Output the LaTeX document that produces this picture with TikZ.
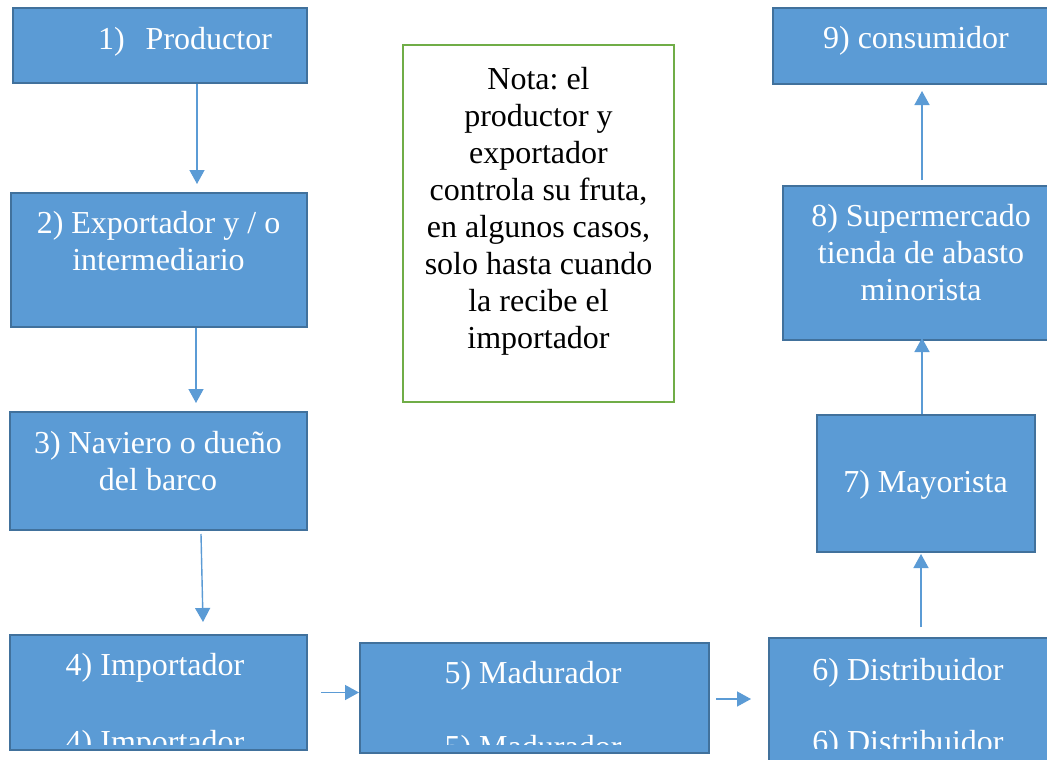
\documentclass[tikz,border=0pt]{standalone}
\usepackage{fontspec}
\setmainfont{Liberation Serif}
\frenchspacing
\usetikzlibrary{arrows.meta}
\definecolor{boxfill}{HTML}{5B9BD5}
\definecolor{boxline}{HTML}{41719C}
\definecolor{arrowc}{HTML}{5B9BD5}
\definecolor{notegreen}{HTML}{70AD47}
\tikzset{
  box/.style={draw=boxline, fill=boxfill, line width=2pt, inner sep=0pt},
  notebox/.style={draw=notegreen, fill=white, line width=2.5pt, inner sep=0pt},
  wtxt/.style={text=white, font=\fontsize{32}{37}\selectfont\frenchspacing, align=center, anchor=base, inner sep=0pt},
  btxt/.style={text=black, font=\fontsize{32}{37}\selectfont\frenchspacing, align=center, anchor=base, inner sep=0pt},
  conn/.style={draw=arrowc, line width=1.4pt, -{Triangle[width=15pt,length=14pt]}}
}
\begin{document}
\begin{tikzpicture}[x=1pt,y=-1pt]
\clip (0,0) rectangle (1047,760);
\fill[white] (0,0) rectangle (1047,760);
% boxes
\node[box, minimum width=294pt, minimum height=75pt] (b1) at (160,45.5) {};
\node[box, minimum width=296pt, minimum height=134pt] (b2) at (159,260) {};
\node[box, minimum width=297pt, minimum height=118pt] (b3) at (158.5,471) {};
\node[box, minimum width=297pt, minimum height=115pt] (b4) at (158.5,692.5) {};
\node[box, minimum width=349pt, minimum height=110pt] (b5) at (534.5,698) {};
\node[box, minimum width=280pt, minimum height=132pt] (b6) at (909,704) {};
\node[box, minimum width=218pt, minimum height=137pt] (b7) at (926,483.5) {};
\node[box, minimum width=266pt, minimum height=154pt] (b8) at (916,263) {};
\node[box, minimum width=276pt, minimum height=76pt] (b9) at (911,46) {};
\node[notebox, minimum width=271pt, minimum height=357pt] (nota) at (538.5,223.5) {};
% texts (anchor=base is the baseline of the last line)
\node[wtxt] (t1) at (185,50) {1)\hspace{13pt} Productor};
\node[wtxt] (t2) at (158.5,270) {2) Exportador y / o\\intermediario};
\node[wtxt] (t3) at (158,490) {3) Naviero o dueño\\del barco};
\node[wtxt] (t4) at (155,675) {4) Importador};
\node[wtxt] (t5) at (533,683) {5) Madurador};
\node[wtxt] (t6) at (908,680) {6) Distribuidor};
\node[wtxt] (t7) at (925.5,492) {7) Mayorista};
\node[wtxt] (t8) at (921,300) {8) Supermercado\\tienda de abasto\\minorista};
\node[wtxt] (t9) at (916,49) {9) consumidor};
\node[btxt] (tn) at (538.5,348) {Nota: el\\productor y\\exportador\\controla su fruta,\\en algunos casos,\\solo hasta cuando\\la recibe el\\importador};
% clipped repeated texts
\begin{scope}
\clip (10,635) rectangle (307,744);
\node[wtxt] (t4b) at (155,752) {4) Importador};
\end{scope}
\begin{scope}
\clip (360,643) rectangle (709,744);
\node[wtxt] (t5b) at (533,757) {5) Madurador};
\end{scope}
\begin{scope}
\clip (769,638) rectangle (1049,748);
\node[wtxt] (t6b) at (908,752) {6) Distribuidor};
\end{scope}
% connectors
\draw[conn] ([xshift=37pt]b1.south) -- ([xshift=38pt,yshift=8pt]b2.north);
\draw[conn] ([xshift=37pt]b2.south) -- ([xshift=37.5pt,yshift=8pt]b3.north);
\draw[conn] ([xshift=42.5pt,yshift=-3pt]b3.south) -- ([xshift=44.5pt,yshift=12pt]b4.north);
\draw[conn] ([xshift=13pt]b4.east) -- ([xshift=51pt]b4.east);
\draw[conn] ([xshift=6pt,yshift=-1pt]b5.east) -- ([xshift=-17pt,yshift=-1pt]b5.east -| b6.west);
\draw[conn] ([xshift=12pt,yshift=10pt]b6.north) -- ([xshift=-5pt,yshift=-1pt]b7.south);
\draw[conn] ([xshift=-4pt]b7.north) -- ([xshift=6pt,yshift=3pt]b8.south);
\draw[conn] ([xshift=6pt,yshift=5pt]b8.north) -- ([xshift=11pt,yshift=-6pt]b9.south);
\end{tikzpicture}
\end{document}
